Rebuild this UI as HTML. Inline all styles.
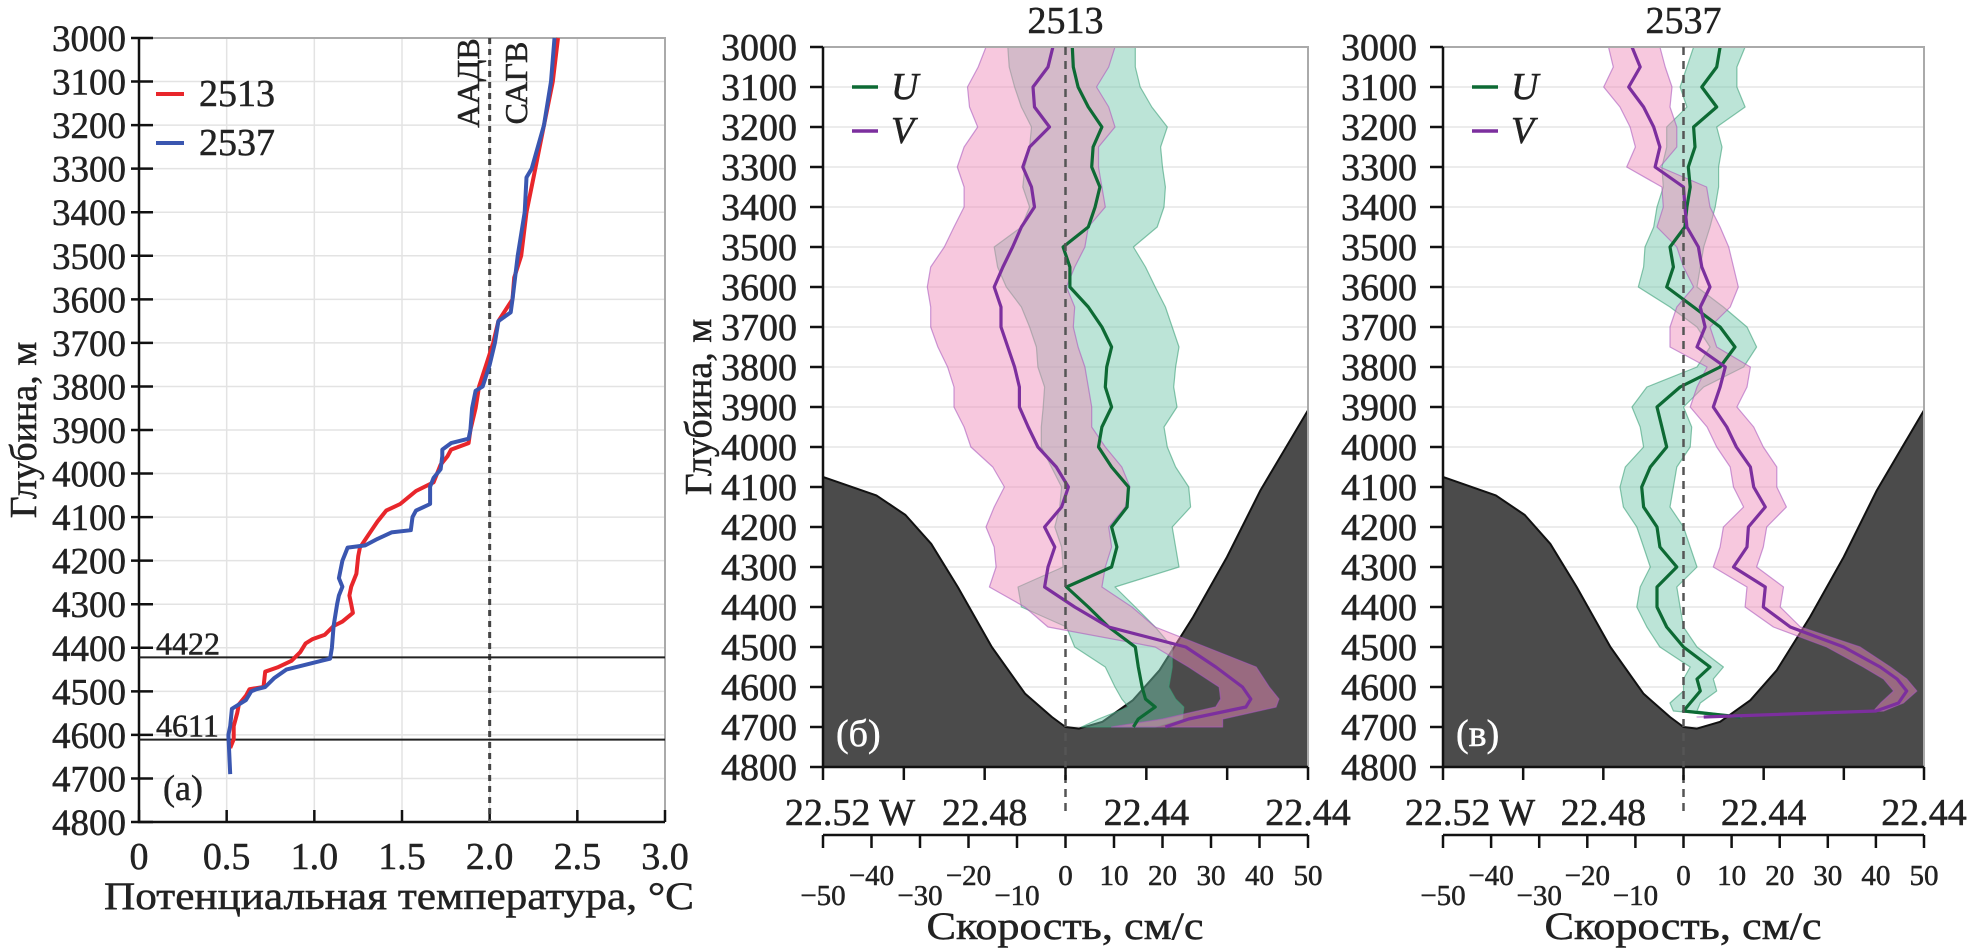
<!DOCTYPE html>
<html><head><meta charset="utf-8"><style>
html,body{margin:0;padding:0;background:#fff;}
svg{display:block;font-family:"Liberation Serif",serif;}
svg text{stroke:#222;stroke-width:0.5px;}
svg text.white{stroke:#fff;}
</style></head><body>
<svg id="fig" width="1970" height="952" viewBox="0 0 1970 952" xmlns="http://www.w3.org/2000/svg">
<defs>
<clipPath id="clipB"><rect x="823" y="47" width="485" height="720"/></clipPath>
<clipPath id="clipC"><rect x="1443" y="47" width="481" height="720"/></clipPath>
</defs>
<g id="panelA"></g>
<g id="panelB"></g>
<g id="panelC"></g>
</svg>
<script>
// ---- Panel (a) data: potential temperature profiles ----
const depthRed = [3000,3100,3200,3300,3400,3500,3550,3600,3650,3700,3750,3800,3850,3900,3930,3945,3960,3980,4020,4040,4070,4085,4110,4140,4170,4190,4230,4260,4280,4300,4320,4340,4350,4370,4380,4390,4410,4430,4445,4455,4490,4495,4510,4530,4550,4580,4610,4630];
const tempRed = [2.39,2.36,2.31,2.26,2.21,2.18,2.14,2.13,2.05,2.02,1.98,1.94,1.92,1.89,1.88,1.78,1.76,1.72,1.68,1.58,1.49,1.41,1.36,1.31,1.26,1.25,1.24,1.21,1.20,1.21,1.22,1.16,1.11,1.06,0.99,0.95,0.92,0.87,0.79,0.72,0.71,0.63,0.61,0.57,0.56,0.54,0.54,0.52];
const depthBlue = [3000,3100,3200,3300,3320,3400,3500,3600,3630,3650,3700,3750,3800,3810,3850,3900,3920,3930,3945,3960,3990,4010,4030,4070,4085,4100,4130,4135,4150,4165,4170,4180,4200,4240,4260,4280,4300,4350,4400,4425,4430,4440,4450,4470,4490,4495,4500,4520,4530,4540,4580,4600,4690];
const tempBlue = [2.37,2.35,2.31,2.24,2.21,2.20,2.16,2.13,2.12,2.05,2.03,2.00,1.96,1.92,1.90,1.89,1.88,1.78,1.73,1.73,1.72,1.68,1.66,1.66,1.58,1.56,1.55,1.44,1.36,1.29,1.19,1.18,1.16,1.14,1.16,1.14,1.13,1.11,1.10,1.09,1.04,0.94,0.84,0.77,0.72,0.67,0.64,0.61,0.57,0.53,0.52,0.51,0.52];
const tempTicks = ["0","0.5","1.0","1.5","2.0","2.5","3.0"];
const depthTicks = [3000,3100,3200,3300,3400,3500,3600,3700,3800,3900,4000,4100,4200,4300,4400,4500,4600,4700,4800];
const layerDepths = [4422,4611];

// ---- Bathymetry (shared) ----
const bathyV = [-50,-39,-33,-27.7,-22.2,-15.2,-8.3,-2.8,0,2.8,7.6,13.9,19.4,26.3,33.3,40.2,50];
const bathyD = [4075,4121,4170,4242,4350,4500,4617,4675,4700,4704,4687,4633,4558,4425,4275,4108,3908];

// ---- Panel (b) station 2513 ----
const depthB = [3000,3050,3100,3150,3200,3250,3300,3350,3400,3450,3500,3550,3600,3650,3700,3750,3800,3850,3900,3950,4000,4050,4100,4150,4200,4250,4300,4350,4400,4450,4500,4550,4600,4630,4650,4680,4700];
const uB   = [1.4,1.6,2.6,4.7,7.5,5.7,5.4,7.1,6.1,4.7,-0.5,0.9,0.9,4.7,7.5,9.5,8.5,8.2,9.5,7.5,6.8,9.5,13.0,12.7,9.5,10.6,9.5,0.2,4.7,8.9,14.4,15.0,15.8,16.5,18.5,15.0,14.0];
const uBLo = [-11.9,-11.6,-10.5,-9.1,-7.0,-7.4,-8.4,-8.8,-7.4,-9.1,-14.7,-14.0,-12.2,-9.1,-7.4,-6.0,-5.7,-4.3,-4.6,-5.0,-5.0,-2.9,-0.8,-1.2,-2.2,-0.8,-0.5,-9.8,-9.1,0.2,1.9,8.2,10.2,11.6,13.0,6.8,3.3];
const uBHi = [14.4,14.4,15.4,17.8,21.0,19.6,20.0,20.6,20.3,18.9,14.0,16.5,18.5,20.6,22.0,23.4,22.7,22.3,23.0,20.3,21.0,22.7,25.4,25.8,22.0,22.7,23.4,10.2,14.4,18.5,22.0,22.0,21.3,22.7,24.4,24.1,18.5];
const vB   = [-2.6,-3.6,-6.7,-6.4,-3.3,-7.4,-8.8,-7.0,-6.4,-9.1,-10.9,-12.9,-14.7,-13.3,-13.3,-11.9,-10.5,-9.5,-9.5,-7.7,-5.7,-1.9,0.6,-0.8,-4.3,-2.2,-3.6,-4.3,1.9,8.9,24.8,31.0,36.5,38.2,37.2,25.4,20.6];
const vBLo = [-16.4,-18.0,-20.2,-19.8,-18.1,-20.9,-22.3,-20.9,-20.9,-23.0,-25.0,-27.8,-28.5,-27.8,-27.8,-26.3,-24.3,-23.0,-23.0,-20.9,-19.5,-15.0,-12.6,-14.7,-16.4,-14.7,-14.3,-15.7,-8.4,-3.6,18.5,25.4,31.7,32.0,31.0,20.0,9.5];
const vBHi = [10.2,8.9,6.4,8.9,10.2,6.8,6.8,7.5,8.2,4.7,4.0,1.9,0.2,1.9,1.6,2.6,4.0,4.7,5.4,5.4,8.2,11.6,13.3,12.3,8.9,9.5,8.2,7.5,13.7,18.5,28.9,39.3,42.0,44.0,43.4,32.4,32.4];

// ---- Panel (c) station 2537 ----
const depthC = [3000,3050,3100,3150,3200,3250,3300,3350,3400,3450,3500,3550,3600,3650,3700,3750,3800,3850,3900,3950,4000,4050,4100,4150,4200,4250,4300,4350,4400,4450,4500,4550,4580,4610,4640,4660,4675];
const uC   = [7.6,6.9,3.8,6.9,2.1,2.4,1.0,1.4,0.7,0.3,-2.8,-2.1,-3.5,2.1,7.6,10.7,7.6,-0.7,-5.5,-4.5,-3.5,-6.9,-8.7,-8.3,-5.5,-4.9,-1.4,-5.5,-5.5,-3.5,0.0,5.5,2.8,3.5,1.4,0.0,11.8];
const uCLo = [2.1,0.7,-0.7,0.7,-3.5,-3.5,-4.5,-4.2,-5.5,-6.2,-8.0,-8.3,-9.4,-2.8,2.8,5.5,2.8,-7.6,-10.7,-9.0,-8.3,-12.1,-13.2,-12.5,-9.7,-8.3,-6.9,-9.0,-9.7,-7.6,-4.9,1.4,0.0,0.0,-2.8,-2.1,11.1];
const uCHi = [12.8,11.1,11.1,12.8,6.9,8.0,7.3,7.3,6.6,5.5,4.2,3.5,2.8,8.3,13.2,15.2,12.5,4.2,0.0,1.7,1.4,-1.4,-2.1,-2.8,0.0,1.4,2.8,-1.4,-0.7,0.0,2.8,8.3,6.2,6.9,3.5,2.8,12.1];
const vC   = [-10.7,-9.0,-11.4,-8.3,-6.2,-4.9,-5.9,0.0,0.3,0.7,3.1,3.8,5.5,3.5,4.5,2.8,8.7,7.6,6.2,9.0,11.0,13.9,14.6,17.0,13.5,13.2,10.4,17.0,16.6,22.2,33.3,40.9,44.4,46.4,44.7,40.0,4.2];
const vCLo = [-15.6,-14.6,-16.6,-13.2,-11.1,-10.0,-11.8,-4.5,-4.2,-5.5,-1.4,0.0,2.1,-1.4,-2.8,-2.8,4.9,2.8,1.4,4.9,6.9,9.7,10.4,12.5,8.3,7.6,6.2,13.2,12.8,18.7,29.8,37.4,41.6,43.7,41.0,39.5,2.8];
const vCHi = [-4.9,-3.8,-2.4,-2.8,-1.4,-1.4,-4.9,4.8,5.5,7.6,9.4,10.4,11.4,9.7,5.5,6.9,13.9,13.2,11.1,14.6,16.6,19.4,19.4,21.4,17.3,16.6,15.2,20.8,20.1,24.3,36.7,43.0,46.4,48.5,45.7,41.6,4.9];

const velTicks = [-50,-40,-30,-20,-10,0,10,20,30,40,50];
const lonLabels = ["22.52 W","22.48","22.44","22.44"];

const NS = "http://www.w3.org/2000/svg";
function mk(parent, tag, attrs, text){
  const e = document.createElementNS(NS, tag);
  for (const k in attrs) e.setAttribute(k, attrs[k]);
  if (text !== undefined) e.textContent = text;
  parent.appendChild(e);
  return e;
}

// ===== Panel A =====
(function(){
  const g = document.getElementById('panelA');
  const X0=139, X1=665, Y0=38, Y1=822;
  const xA = t => X0 + t*(X1-X0)/3;
  const yA = d => Y0 + (d-3000)*(Y1-Y0)/1800;
  for (let i=0;i<tempTicks.length;i++){
    const x = xA(i*0.5);
    const l = mk(g,'line',{x1:x,x2:x,y1:Y0,y2:Y1,stroke:'#e3e3e3','stroke-width':1.5});
    
    
  }
  depthTicks.forEach(d=>{
    const y=yA(d);
    const l = mk(g,'line',{x1:X0,x2:X1,y1:y,y2:y,stroke:'#e3e3e3','stroke-width':1.5});
    
    
  });
  mk(g,'path',{d:`M${X0},${Y0}H${X1}V${Y1}`,fill:'none',stroke:'#aaa','stroke-width':2});
  const ax = mk(g,'path',{d:`M${X0},${Y0}V${Y1}H${X1}`,fill:'none',stroke:'#111','stroke-width':2.5});
  
  
  depthTicks.forEach(d=>{
    const y=yA(d);
    mk(g,'line',{x1:X0-8,x2:X0+14,y1:y,y2:y,stroke:'#111','stroke-width':2.5});
    const t = mk(g,'text',{x:126,y:y+13,'text-anchor':'end','font-size':37,fill:'#222'},String(d));
    
    
  });
  tempTicks.forEach((s,i)=>{
    const x=xA(i*0.5);
    mk(g,'line',{x1:x,x2:x,y1:Y1,y2:Y1-12,stroke:'#111','stroke-width':2.5});
    const t = mk(g,'text',{x:x,y:869,'text-anchor':'middle','font-size':38,fill:'#222'},s);
    
    
  });
  const dl = mk(g,'line',{x1:xA(2),x2:xA(2),y1:Y0,y2:Y1,stroke:'#444','stroke-width':3,'stroke-dasharray':'6,5'});
  
  
  layerDepths.forEach(d=>{
    const y=yA(d);
    const l = mk(g,'line',{x1:X0,x2:X1,y1:y,y2:y,stroke:'#222','stroke-width':2});
    
    
    const t = mk(g,'text',{x:156,y:y-3,'font-size':32,fill:'#222'},String(d));
    
    
  });
  const pts=(ds,ts)=>ds.map((d,i)=>`${xA(ts[i]).toFixed(1)},${yA(d).toFixed(1)}`).join(' ');
  const r = mk(g,'polyline',{points:pts(depthRed,tempRed),fill:'none',stroke:'#e8262b','stroke-width':4,'stroke-linejoin':'round'});
  
  
  const b = mk(g,'polyline',{points:pts(depthBlue,tempBlue),fill:'none',stroke:'#3a56b0','stroke-width':4,'stroke-linejoin':'round'});
  
  
  const l1 = mk(g,'line',{x1:156,x2:184,y1:94,y2:94,stroke:'#e8262b','stroke-width':4});
  
  
  const t1 = mk(g,'text',{x:199,y:106,'font-size':38,fill:'#222'},'2513');
  
  
  const l2 = mk(g,'line',{x1:156,x2:184,y1:143,y2:143,stroke:'#3a56b0','stroke-width':4});
  
  
  const t2 = mk(g,'text',{x:199,y:155,'font-size':38,fill:'#222'},'2537');
  
  
  const wa = mk(g,'text',{x:0,y:0,'font-size':32,fill:'#222','text-anchor':'middle',transform:'translate(479,83) rotate(-90)'},'ААДВ');
  
  
  const wb = mk(g,'text',{x:0,y:0,'font-size':32,fill:'#222','text-anchor':'middle',transform:'translate(527,83) rotate(-90)'},'САГВ');
  
  
  const pl = mk(g,'text',{x:163,y:800,'font-size':36,fill:'#222'},'(a)');
  
  
  const xt = mk(g,'text',{x:104,y:909,'font-size':39,fill:'#222',textLength:590,lengthAdjust:'spacingAndGlyphs'},'Потенциальная температура, °C');
  
  
  const yt = mk(g,'text',{x:0,y:0,'text-anchor':'middle','font-size':38,fill:'#222',transform:'translate(36,430) rotate(-90)'},'Глубина, м');
  
  
})();

// ===== Velocity panels =====
function velPanel(gid, X0, X1, clipId, title, depth, u, uLo, uHi, v, vLo, vHi, plabel, showYTitle){
  const g = document.getElementById(gid);
  const Y0=47, Y1=767;
  const xs = val => X0 + (val+50)*(X1-X0)/100;
  const ys = d => Y0 + (d-3000)*(Y1-Y0)/1800;
  depthTicks.forEach(d=>{
    const y=ys(d);
    const l = mk(g,'line',{x1:X0,x2:X1,y1:y,y2:y,stroke:'#e6e6e6','stroke-width':1.5});
    
    
  });
  const cg = mk(g,'g',{'clip-path':`url(#${clipId})`});
  let bp = `M${xs(-50)},${Y1}`;
  bathyV.forEach((bv,i)=>{ bp += ` L${xs(bv).toFixed(1)},${ys(bathyD[i]).toFixed(1)}`; });
  bp += ` L${xs(50)},${Y1} Z`;
  const bat = mk(cg,'path',{d:bp,fill:'#4b4b4b',stroke:'#111','stroke-width':2,'stroke-linejoin':'round'});
  
  
  const band = (lo,hi,fill,stroke,name)=>{
    let p='';
    depth.forEach((d,i)=>{ p += (i?' L':'M')+xs(lo[i]).toFixed(1)+','+ys(d).toFixed(1); });
    for (let i=depth.length-1;i>=0;i--) p += ' L'+xs(hi[i]).toFixed(1)+','+ys(depth[i]).toFixed(1);
    const e = mk(cg,'path',{d:p+' Z',fill:fill,stroke:stroke,'stroke-width':1.2,'stroke-linejoin':'round'});
    
    
  };
  band(uLo,uHi,'rgba(113,198,169,0.47)','rgba(60,160,120,0.6)','u-uncertainty-band');
  band(vLo,vHi,'rgba(239,141,185,0.48)','rgba(170,90,190,0.6)','v-uncertainty-band');
  const line=(vals,col,name)=>{
    const p = depth.map((d,i)=>`${xs(vals[i]).toFixed(1)},${ys(d).toFixed(1)}`).join(' ');
    const e = mk(cg,'polyline',{points:p,fill:'none',stroke:col,'stroke-width':3.2,'stroke-linejoin':'round'});
    
    
  };
  line(u,'#0d6a34','u-line');
  line(v,'#7c2f9e','v-line');
  mk(g,'path',{d:`M${X0},${Y0}H${X1}V${Y1}`,fill:'none',stroke:'#aaa','stroke-width':2});
  const ax = mk(g,'path',{d:`M${X0},${Y0}V${Y1}H${X1}`,fill:'none',stroke:'#111','stroke-width':2.5});
  
  
  const dz = mk(g,'line',{x1:xs(0),x2:xs(0),y1:Y0,y2:813,stroke:'#555','stroke-width':2.5,'stroke-dasharray':'8,6'});
  
  
  depthTicks.forEach(d=>{
    const y=ys(d);
    mk(g,'line',{x1:X0-13,x2:X0,y1:y,y2:y,stroke:'#111','stroke-width':2.5});
    const t = mk(g,'text',{x:X0-26,y:y+13,'text-anchor':'end','font-size':38,fill:'#222'},String(d));
    
    
  });
  for (let i=0;i<=6;i++){
    const x = X0 + i*(X1-X0)/6;
    mk(g,'line',{x1:x,x2:x,y1:Y1,y2:Y1+13,stroke:'#111','stroke-width':2.5});
  }
  const lonX=[X0+27, X0+2*(X1-X0)/6, X0+4*(X1-X0)/6, X1];
  lonLabels.forEach((s,i)=>{
    const t = mk(g,'text',{x:lonX[i],y:825,'text-anchor':'middle','font-size':38,fill:'#222'},s);
    
    
  });
  mk(g,'line',{x1:xs(-50),x2:xs(50),y1:835,y2:835,stroke:'#111','stroke-width':2.5});
  velTicks.forEach((tv,i)=>{
    const x = xs(tv);
    mk(g,'line',{x1:x,x2:x,y1:835,y2:848,stroke:'#111','stroke-width':2.5});
    const low = (tv===-50||tv===-30||tv===-10);
    const s = tv<0 ? '\u2212'+Math.abs(tv) : String(tv);
    const t = mk(g,'text',{x:x,y:low?905:885,'text-anchor':'middle','font-size':29,fill:'#222'},s);
    
    
  });
  const xt = mk(g,'text',{x:xs(0)-139,y:939,'font-size':39,fill:'#222',textLength:277,lengthAdjust:'spacingAndGlyphs'},'Скорость, см/с');
  
  
  const tt = mk(g,'text',{x:xs(0),y:33,'text-anchor':'middle','font-size':38,fill:'#222'},title);
  
  
  const lu = mk(g,'line',{x1:X0+29,x2:X0+55,y1:87,y2:87,stroke:'#0d6a34','stroke-width':3.5});
  
  
  const tu = mk(g,'text',{x:X0+68,y:99,'font-size':38,'font-style':'italic',fill:'#222'},'U');
  
  
  const lv = mk(g,'line',{x1:X0+29,x2:X0+55,y1:131,y2:131,stroke:'#7c2f9e','stroke-width':3.5});
  
  
  const tvv = mk(g,'text',{x:X0+68,y:143,'font-size':38,'font-style':'italic',fill:'#222'},'V');
  
  
  const pl = mk(g,'text',{x:X0+13,y:746,'font-size':38,fill:'#fff','class':'white'},plabel);
  
  
  if (showYTitle){
    const yt = mk(g,'text',{x:0,y:0,'text-anchor':'middle','font-size':38,fill:'#222',transform:'translate(711,407) rotate(-90)'},'Глубина, м');
    
    
  }
}
velPanel('panelB',823,1308,'clipB','2513',depthB,uB,uBLo,uBHi,vB,vBLo,vBHi,'(б)',true);
velPanel('panelC',1443,1924,'clipC','2537',depthC,uC,uCLo,uCHi,vC,vCLo,vCHi,'(в)',false);
</script>
</body></html>
